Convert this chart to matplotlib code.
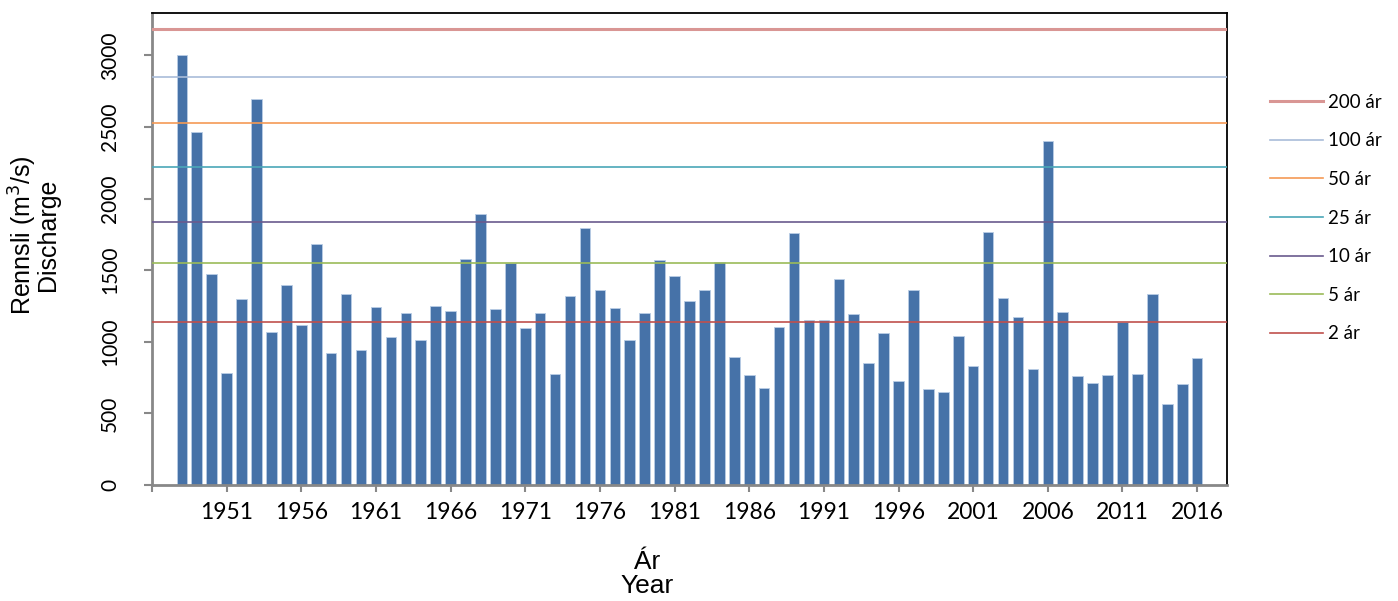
import matplotlib
matplotlib.use('Agg')
import matplotlib.pyplot as plt
from matplotlib.lines import Line2D

# annual maximum discharge, 1948-2016
years = list(range(1948, 2017))
discharge = [3000, 2464, 1476, 779, 1297, 2694, 1067, 1395, 1116, 1686,
             923, 1334, 944, 1246, 1037, 1204, 1011, 1253, 1218, 1581,
             1890, 1230, 1548, 1097, 1204, 776, 1323, 1797, 1362, 1239,
             1016, 1202, 1574, 1460, 1288, 1360, 1557, 893, 765, 674,
             1102, 1762, 1149, 1149, 1437, 1193, 849, 1060, 725, 1362,
             667, 653, 1039, 828, 1769, 1304, 1176, 807, 2400, 1211,
             762, 709, 769, 1141, 776, 1337, 563, 707, 888]

# flood levels by return period
rp_labels = ['200 ár', '100 ár', '50 ár', '25 ár', '10 ár', '5 ár', '2 ár']
rp_values = [3185, 2847, 2527, 2220, 1836, 1550, 1139]
rp_colors = ['#d99694', '#a9bcd9', '#f59a55', '#4aa7b8', '#6a5a8e', '#9bbb59', '#c0504d']
rp_widths = [2.2, 1.2, 1.2, 1.2, 1.2, 1.2, 1.2]

xticks = list(range(1946, 2017, 5))
xticklabels = [''] + [str(y) for y in xticks[1:]]
yticks = [0, 500, 1000, 1500, 2000, 2500, 3000]

fig = plt.figure(figsize=(13.98, 6.01), dpi=100)
ax = fig.add_axes([152 / 1398, 1 - 485 / 601, (1227 - 152) / 1398, (485 - 12.5) / 601])

ax.bar(years, discharge, width=0.71, color='#4672a8', edgecolor='#b9cde5',
       linewidth=0.6, zorder=2)

handles = []
for lab, val, col, lw in zip(rp_labels, rp_values, rp_colors, rp_widths):
    ax.axhline(val, color=col, lw=lw, zorder=3)
    handles.append(Line2D([], [], color=col, lw=lw, label=lab))

ax.set_xlim(1946, 2018)
ax.set_ylim(0, 3300)
ax.set_xticks(xticks)
ax.set_xticklabels(xticklabels, fontfamily='Lato', fontsize=16.5)
ax.set_yticks(yticks)
ax.set_yticklabels([str(v) for v in yticks], fontfamily='Lato', fontsize=15,
                   rotation=90, va='center')
ax.tick_params(axis='x', length=5, width=1.5, color='#888888', pad=7)
ax.tick_params(axis='y', length=6, width=1.5, color='#888888', pad=17)

for side in ['left', 'bottom']:
    ax.spines[side].set_color('#888888')
    ax.spines[side].set_linewidth(2)
for side in ['top', 'right']:
    ax.spines[side].set_color('black')
    ax.spines[side].set_linewidth(1.3)

ax.set_ylabel('Rennsli (m$^3$/s)\nDischarge', fontfamily='Liberation Sans',
              fontsize=18, linespacing=0.82)
ax.yaxis.set_label_coords(-0.0856, 0.53)

fig.text(647 / 1398, 1 - 574 / 601, 'Ár\nYear', fontfamily='Liberation Sans',
         fontsize=19, ha='center', va='center', linespacing=0.95)

fig.legend(handles=handles, loc='center left', bbox_to_anchor=(1261 / 1398, 1 - 218 / 601),
           frameon=False, borderpad=0, handlelength=2.8, handletextpad=0.3,
           labelspacing=1.15, prop={'family': 'Lato', 'size': 13.5})

fig.savefig('out.png', dpi=100)
